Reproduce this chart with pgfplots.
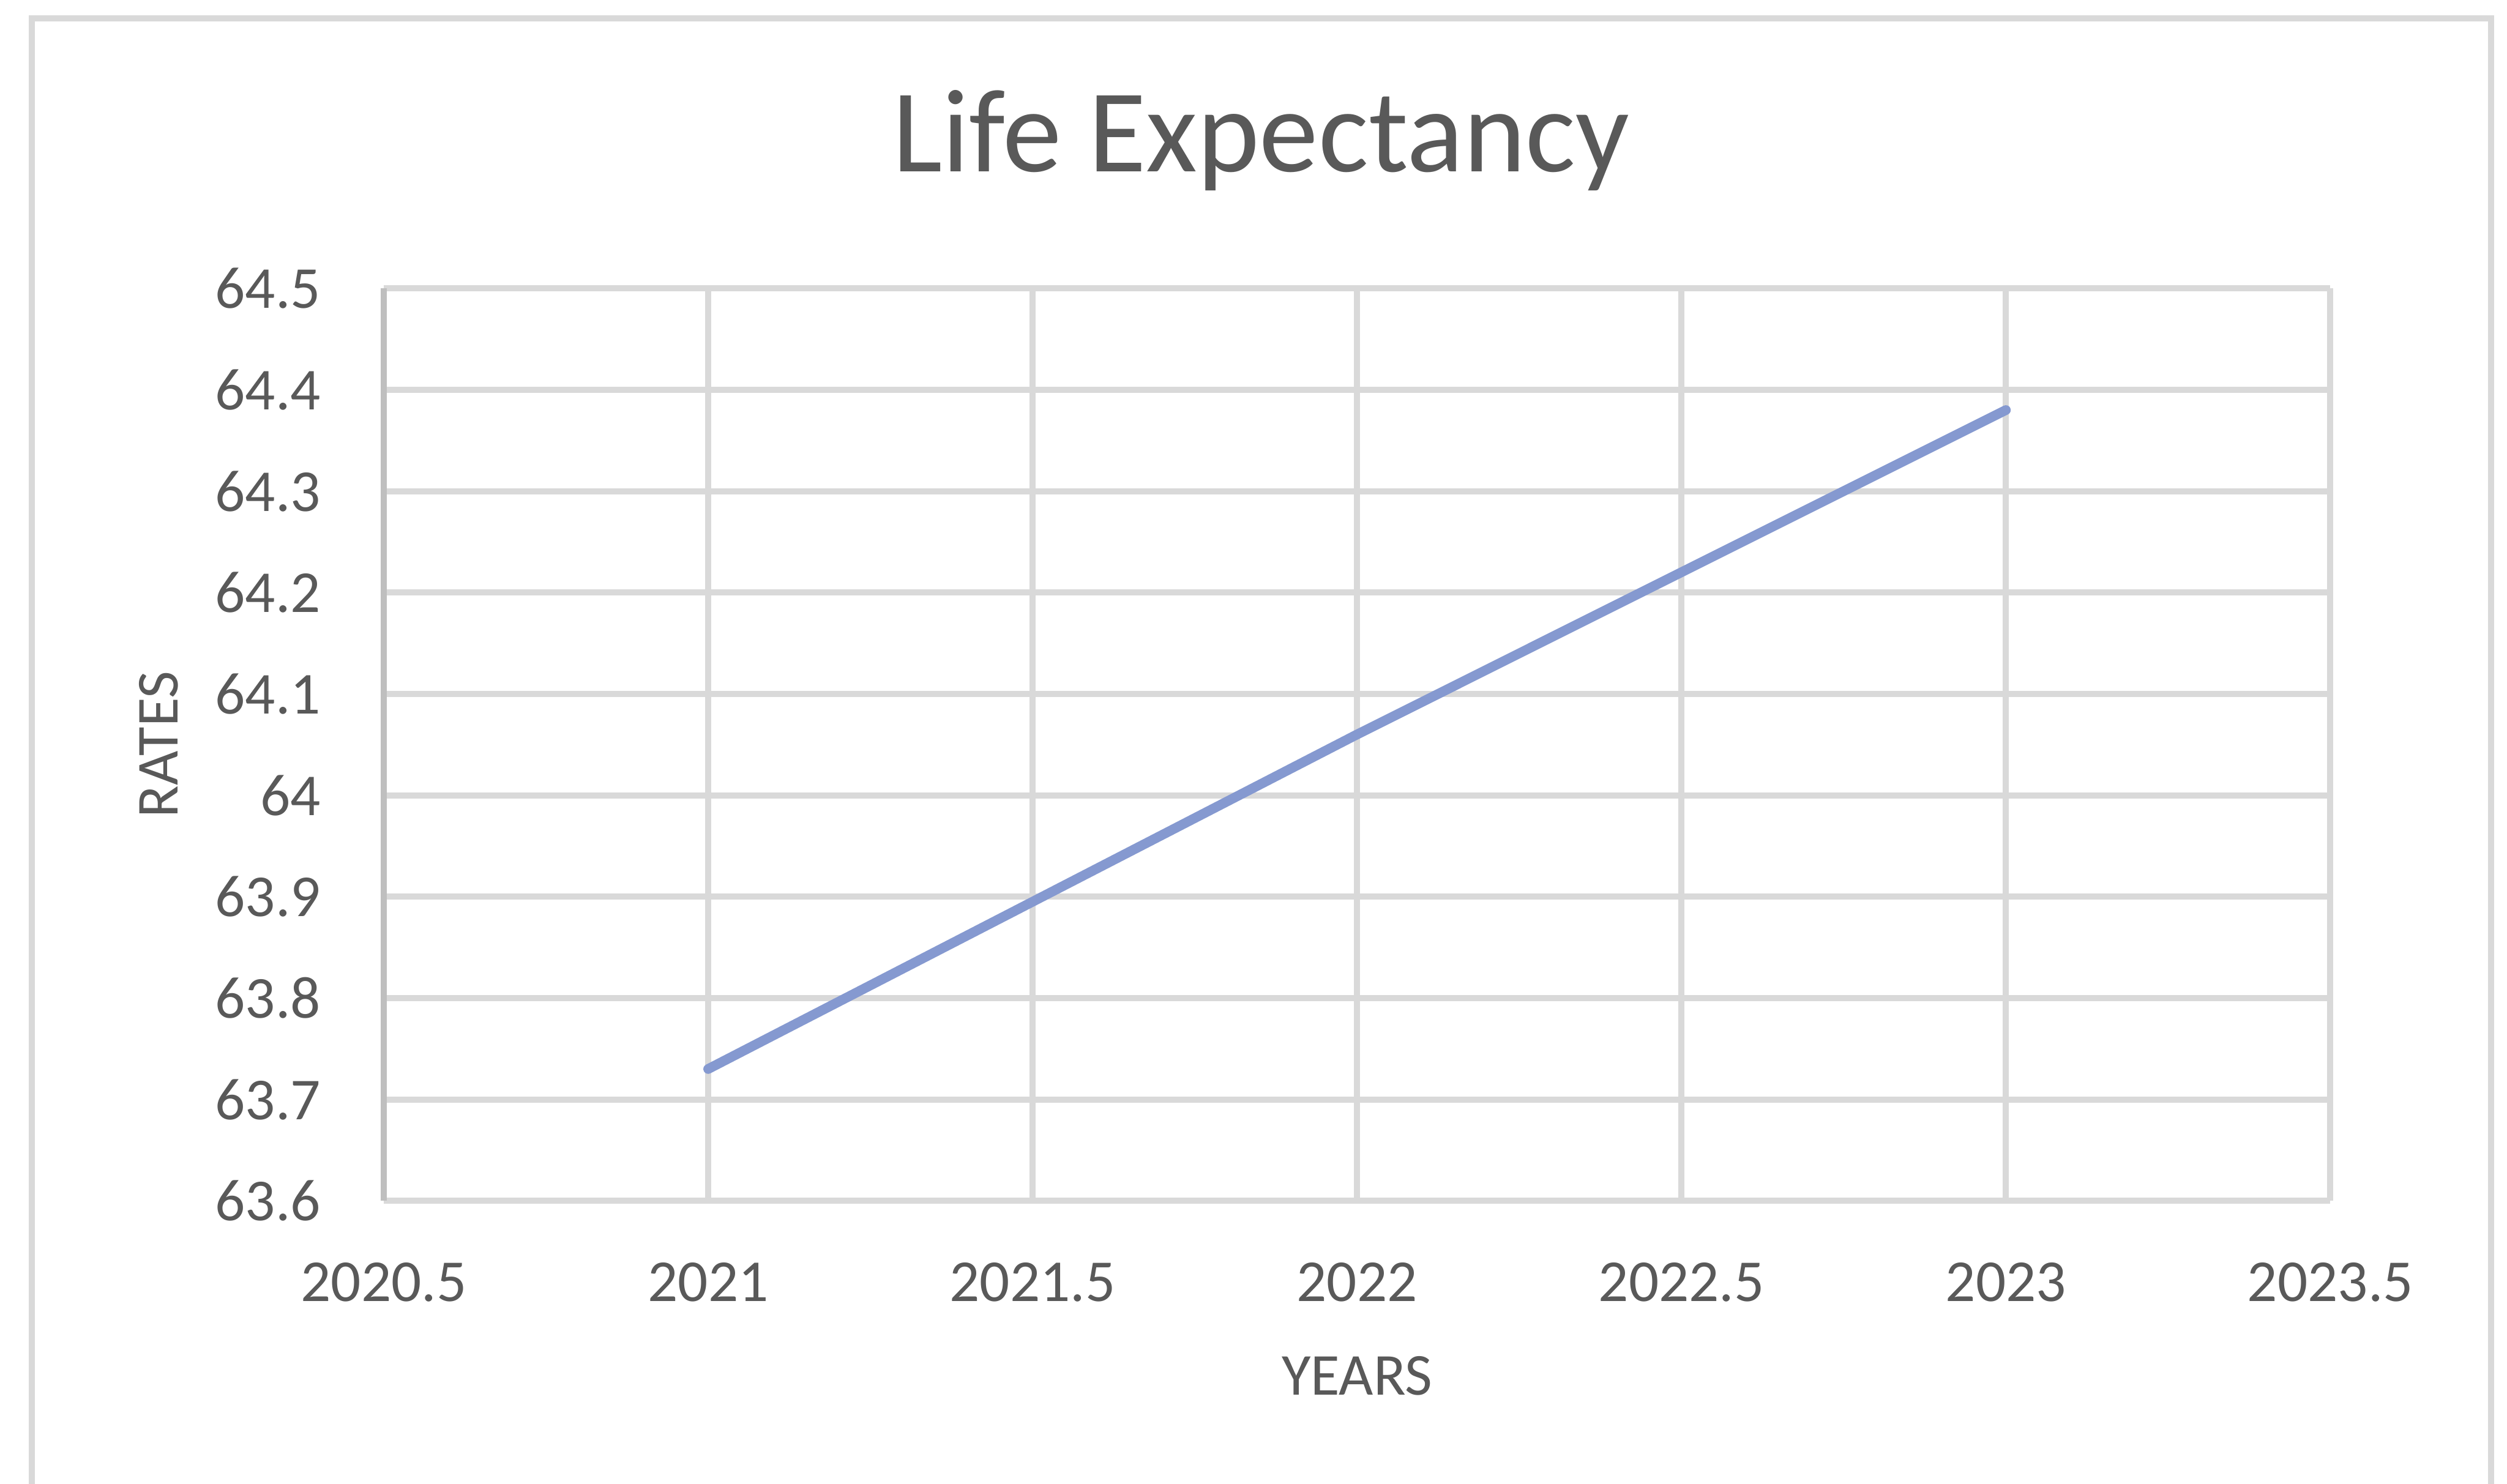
\documentclass[border=0pt]{standalone}
\usepackage{pgfplots}
\pgfplotsset{compat=1.18}
\usepackage{fontspec}
\setmainfont{Carlito}
\definecolor{txt}{HTML}{595959}
\definecolor{gridc}{HTML}{D9D9D9}
\definecolor{axc}{HTML}{BFBFBF}
\definecolor{linec}{RGB}{133,153,208}
\begin{document}
\begin{tikzpicture}
\useasboundingbox (0,0) rectangle (412.9pt,244.4pt);
\draw[gridc, line width=1pt] (5.2pt,-10pt) -- (5.2pt,241.4pt) -- (410.3pt,241.4pt) -- (410.3pt,-10pt);
\begin{axis}[
  at={(63.2pt,46.6pt)}, anchor=south west,
  scale only axis, width=320.6pt, height=150.3pt,
  xmin=2020.5, xmax=2023.5, ymin=63.6, ymax=64.5,
  xtick={2020.5,2021,2021.5,2022,2022.5,2023,2023.5},
  ytick={63.6,63.7,63.8,63.9,64,64.1,64.2,64.3,64.4,64.5},
  xticklabels={2020.5,2021,2021.5,2022,2022.5,2023,2023.5},
  yticklabels={63.6,63.7,63.8,63.9,64,64.1,64.2,64.3,64.4,64.5},
  major tick length=0pt,
  axis line style={draw=none},
  grid=major,
  major grid style={gridc, line width=1pt},
  tick label style={font=\fontsize{9.8}{11}\selectfont, text=txt, inner sep=0pt},
  xticklabel style={anchor=north, yshift=-10pt},
  yticklabel style={anchor=east, xshift=-10.2pt},
  xlabel={YEARS}, ylabel={RATES},
  label style={font=\fontsize{9.8}{11}\selectfont, text=txt, inner sep=0pt},
  xlabel style={at={(axis description cs:0.5,-0.2129)}, anchor=base},
  ylabel style={at={(axis description cs:-0.1057,0.5)}, anchor=base, rotate=0},
  title={Life Expectancy},
  every axis title/.style={at={(axis description cs:0.4507,1.1278)}, anchor=base, font=\fontsize{19.5}{22}\selectfont, text=txt, inner sep=0pt},
  clip=false,
]
\draw[axc, line width=1pt] (rel axis cs:0,0) -- (rel axis cs:0,1);
\addplot[linec, line width=1.6pt, line cap=round, line join=round, mark=none] coordinates {
  (2021,63.73) (2022,64.06) (2023,64.38)
};
\end{axis}
\end{tikzpicture}
\end{document}
